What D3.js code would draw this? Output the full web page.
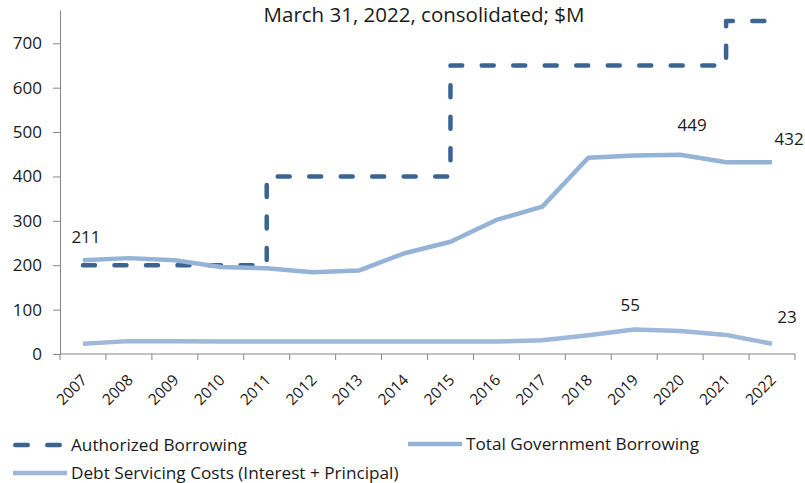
<!DOCTYPE html>
<html>
<head>
<meta charset="utf-8">
<script src="https://cdn.jsdelivr.net/npm/d3@7"></script>
<style>
  html, body { margin: 0; padding: 0; background: #fff; }
  svg { display: block; font-family: "Open Sans", Lato, sans-serif; }
</style>
</head>
<body>
<svg id="chart" width="805" height="483"></svg>
<script>
// Fiscal years on the category axis
const years = ["2007","2008","2009","2010","2011","2012","2013","2014",
               "2015","2016","2017","2018","2019","2020","2021","2022"];

// Borrowing limit set by legislation ($M)
const authorizedBorrowing = [200,200,200,200,400,400,400,400,650,650,650,650,650,650,750,750];

// Outstanding consolidated borrowing ($M)
const totalBorrowing = [211,216,211,196,193,184,188,227,253,302,332,442,447,449,432,432];

// Annual interest + principal payments ($M)
const debtServicing = [23,29,29,28,28,28,28,28,28,28,31,42,55,52,43,23];

const yTicks = [0,100,200,300,400,500,600,700];

// Values that carry a printed label: [series, year, dx, dy]
const valueLabels = [
  ["total", "2007", 3, -17],
  ["total", "2020", 12, -24],
  ["total", "2022", 17, -17],
  ["debt", "2019", -4, -19],
  ["debt", "2022", 15, -21]
];

const titleText = "March 31, 2022, consolidated; $M";

const colors = { authorized: "#3b6495", total: "#95b3d7", debt: "#9fb7d8", axis: "#868686", text: "#1a1a1a" };

const svg = d3.select("#chart");
const plot = { left: 60, right: 795, bottom: 354, top: 10 };

const x = d3.scaleBand().domain(years).range([plot.left, plot.right]).paddingInner(0).paddingOuter(0);
const cx = d => x(d) + x.bandwidth() / 2;
const y = d3.scaleLinear().domain([0, 775]).range([plot.bottom, plot.top]);

// Title
svg.append("text")
  .attr("x", 424).attr("y", 22)
  .attr("text-anchor", "middle")
  .attr("font-size", 20.5)
  .attr("fill", colors.text)
  .text(titleText);

// Y axis
const yAxis = svg.append("g")
  .attr("transform", `translate(${plot.left},0)`)
  .call(d3.axisLeft(y).tickValues(yTicks).tickSize(7).tickPadding(11).tickSizeOuter(0));
yAxis.select(".domain").attr("stroke", colors.axis);
yAxis.selectAll(".tick line").attr("stroke", colors.axis);
yAxis.selectAll(".tick text").attr("font-size", 17).attr("fill", colors.text)
  .attr("font-family", "'Open Sans', sans-serif");

// X axis: ticks sit between categories
const xAxisG = svg.append("g").attr("transform", `translate(0,${plot.bottom})`);
xAxisG.append("line")
  .attr("x1", plot.left).attr("x2", plot.right)
  .attr("stroke", colors.axis);
const boundaries = years.map(d => x(d)).concat([x(years[years.length - 1]) + x.bandwidth()]);
xAxisG.selectAll("line.tk").data(boundaries).join("line")
  .attr("class", "tk")
  .attr("x1", d => d).attr("x2", d => d)
  .attr("y1", 0).attr("y2", 6)
  .attr("stroke", colors.axis);
xAxisG.selectAll("text").data(years).join("text")
  .attr("transform", d => `translate(${cx(d) + 5},${27}) rotate(-45)`)
  .attr("text-anchor", "end")
  .attr("font-size", 15.5)
  .attr("fill", colors.text)
  .text(d => d);

// Series lines
const lineLinear = d3.line().x((d, i) => cx(years[i])).y(d => y(d));
const lineStep = d3.line().x((d, i) => cx(years[i])).y(d => y(d)).curve(d3.curveStepAfter);

svg.append("path")
  .datum(authorizedBorrowing)
  .attr("d", lineStep)
  .attr("fill", "none")
  .attr("stroke", colors.authorized)
  .attr("stroke-width", 4.5)
  .attr("stroke-linecap", "round")
  .attr("stroke-linejoin", "round")
  .attr("stroke-dasharray", "12,19.5");

svg.append("path")
  .datum(debtServicing)
  .attr("d", lineLinear)
  .attr("fill", "none")
  .attr("stroke", colors.debt)
  .attr("stroke-width", 4.5)
  .attr("stroke-linejoin", "round");

svg.append("path")
  .datum(totalBorrowing)
  .attr("d", lineLinear)
  .attr("fill", "none")
  .attr("stroke", colors.total)
  .attr("stroke-width", 4.5)
  .attr("stroke-linejoin", "round");

// Value labels
const seriesByKey = { total: totalBorrowing, debt: debtServicing };
svg.selectAll("text.vlabel").data(valueLabels).join("text")
  .attr("class", "vlabel")
  .attr("x", d => cx(d[1]) + d[2])
  .attr("y", d => y(seriesByKey[d[0]][years.indexOf(d[1])]) + d[3])
  .attr("text-anchor", "middle")
  .attr("font-size", 17)
  .attr("fill", colors.text)
  .text(d => seriesByKey[d[0]][years.indexOf(d[1])]);

// Legend
const legendItems = [
  { name: "Authorized Borrowing", color: colors.authorized, dash: "12.5,19.5", x: 13, y: 445, len: 49, textX: 71 },
  { name: "Total Government Borrowing", color: colors.total, dash: null, x: 408, y: 444, len: 54, textX: 466 },
  { name: "Debt Servicing Costs (Interest + Principal)", color: colors.debt, dash: null, x: 13, y: 473, len: 54, textX: 71 }
];
const lg = svg.append("g");
legendItems.forEach(it => {
  const cap = it.dash ? 2.25 : 0;
  lg.append("line")
    .attr("x1", it.x + cap).attr("x2", it.x + it.len - cap)
    .attr("y1", it.y).attr("y2", it.y)
    .attr("stroke", it.color)
    .attr("stroke-width", 4.5)
    .attr("stroke-linecap", it.dash ? "round" : "butt")
    .attr("stroke-dasharray", it.dash);
  lg.append("text")
    .attr("x", it.textX).attr("y", it.y + 6)
    .attr("font-size", 17.2)
    .attr("fill", colors.text)
    .text(it.name);
});
</script>
</body>
</html>
